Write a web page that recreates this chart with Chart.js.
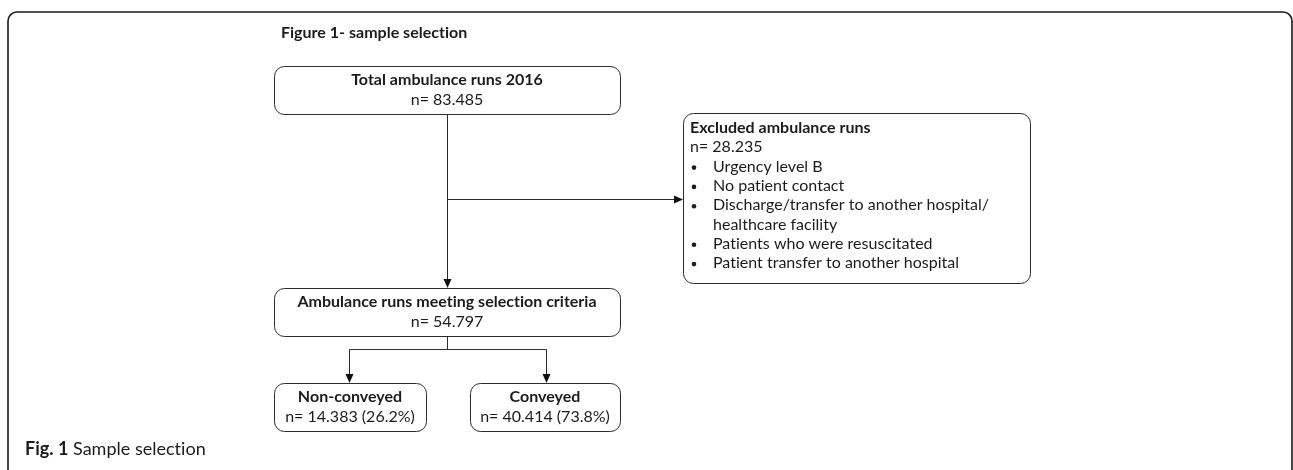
<!DOCTYPE html>
<html><head><meta charset="utf-8">
<script src="https://cdn.jsdelivr.net/npm/chart.js@4/dist/chart.umd.min.js"></script>
<style>html,body{margin:0;padding:0;background:#fff}#wrap{width:1293px;height:470px;position:relative}</style>
</head><body><div id="wrap"><canvas id="c"></canvas></div>
<script>
// ---- data ----
const figureTitle = 'Figure 1- sample selection';
const captionLabel = 'Fig. 1';
const captionText = ' Sample selection';
const stageTitles = ['Total ambulance runs 2016', 'Ambulance runs meeting selection criteria', 'Non-conveyed', 'Conveyed'];
const stageCounts = [83485, 54797, 14383, 40414];
const stageShares = [null, null, 26.2, 73.8];
const excludedTitle = 'Excluded ambulance runs';
const excludedCount = 28235;
const excludedReasons = ['Urgency level B', 'No patient contact', 'Discharge/transfer to another hospital/\nhealthcare facility', 'Patients who were resuscitated', 'Patient transfer to another hospital'];

// ---- layout (axis units) ----
const stageBoxes = [
  {x0: 274, y0: 66, x1: 620, y1: 114},
  {x0: 274, y0: 288, x1: 620, y1: 336},
  {x0: 274, y0: 383, x1: 426, y1: 431},
  {x0: 470, y0: 383, x1: 620, y1: 431}
];
const excludedBox = {x0: 683, y0: 113, x1: 1030, y1: 283};
const branchY = 199, splitY = 349;
const TXT = '#1e1b1c', LINE = '#2a2a2a';
const FONT = 'Lato, "Open Sans", sans-serif';

const fmt = n => String(n).replace(/\B(?=(\d{3})+(?!\d))/g, '.');

function rr(ctx, x0, y0, x1, y1, r) {
  ctx.beginPath();
  ctx.moveTo(x0 + r, y0);
  ctx.lineTo(x1 - r, y0);
  ctx.arcTo(x1, y0, x1, y0 + r, r);
  ctx.lineTo(x1, y1 - r);
  ctx.arcTo(x1, y1, x1 - r, y1, r);
  ctx.lineTo(x0 + r, y1);
  ctx.arcTo(x0, y1, x0, y1 - r, r);
  ctx.lineTo(x0, y0 + r);
  ctx.arcTo(x0, y0, x0 + r, y0, r);
  ctx.closePath();
}

const flowPlugin = {
  id: 'flow',
  afterDraw(chart) {
    const ctx = chart.ctx;
    const sx = chart.scales.x, sy = chart.scales.y;
    const X = v => sx.getPixelForValue(v), Y = v => sy.getPixelForValue(v);
    const px = v => Math.round(v) + 0.5;
    ctx.save();
    if ('letterSpacing' in ctx) ctx.letterSpacing = '0.01px'; // avoid ligatures

    // outer frame
    ctx.strokeStyle = '#1a1a1a';
    ctx.lineWidth = 1.6;
    rr(ctx, X(8), Y(12), X(1292), Y(520), 9);
    ctx.stroke();

    // title
    ctx.fillStyle = TXT;
    ctx.textBaseline = 'middle';
    ctx.textAlign = 'left';
    ctx.font = 'bold 16px ' + FONT;
    ctx.fillText(figureTitle, X(281), Y(33));

    // stage boxes
    ctx.lineWidth = 1;
    ctx.strokeStyle = LINE;
    stageBoxes.forEach((b, i) => {
      rr(ctx, px(X(b.x0)), px(Y(b.y0)), px(X(b.x1)), px(Y(b.y1)), 10);
      ctx.stroke();
      const cx = (X(b.x0) + X(b.x1)) / 2;
      const top = Y(b.y0);
      ctx.textAlign = 'center';
      ctx.font = 'bold 16px ' + FONT;
      ctx.fillText(stageTitles[i], cx, top + 14);
      ctx.font = '16px ' + FONT;
      let l2 = 'n= ' + fmt(stageCounts[i]);
      if (stageShares[i] != null) l2 += ' (' + stageShares[i].toFixed(1) + '%)';
      ctx.fillText(l2, cx, top + 34);
    });

    // excluded box
    const e = excludedBox;
    rr(ctx, px(X(e.x0)), px(Y(e.y0)), px(X(e.x1)), px(Y(e.y1)), 10);
    ctx.stroke();
    ctx.textAlign = 'left';
    ctx.font = 'bold 16px ' + FONT;
    const lh = 19.3;
    let ly = Y(e.y0) + 15;
    ctx.fillText(excludedTitle, X(e.x0) + 7, ly);
    ly += lh;
    ctx.font = '16px ' + FONT;
    ctx.fillText('n= ' + fmt(excludedCount), X(e.x0) + 7, ly);
    excludedReasons.forEach(r => {
      r.split('\n').forEach((ln, j) => {
        ly += lh;
        if (j === 0) {
          ctx.beginPath();
          ctx.arc(X(e.x0) + 11, ly + 1, 2.3, 0, Math.PI * 2);
          ctx.fill();
        }
        ctx.fillText(ln, X(e.x0) + 30, ly);
      });
    });

    // connectors
    function line(x0, y0, x1, y1) {
      ctx.beginPath();
      ctx.moveTo(x0, y0); ctx.lineTo(x1, y1); ctx.stroke();
    }
    function arrowDown(x, y) {
      ctx.beginPath();
      ctx.moveTo(x, y); ctx.lineTo(x - 4, y - 9); ctx.lineTo(x + 4, y - 9); ctx.closePath(); ctx.fill();
    }
    function arrowRight(x, y) {
      ctx.beginPath();
      ctx.moveTo(x, y); ctx.lineTo(x - 9, y - 4); ctx.lineTo(x - 9, y + 4); ctx.closePath(); ctx.fill();
    }
    ctx.fillStyle = '#111';
    const mx = px((X(stageBoxes[0].x0) + X(stageBoxes[0].x1)) / 2);
    line(mx, Y(stageBoxes[0].y1), mx, Y(stageBoxes[1].y0) - 8);
    arrowDown(mx, Y(stageBoxes[1].y0));
    line(mx, px(Y(branchY)), X(e.x0) - 8, px(Y(branchY)));
    arrowRight(X(e.x0), px(Y(branchY)));
    const lx = px((X(stageBoxes[2].x0) + X(stageBoxes[2].x1)) / 2) - 1;
    const rx = px((X(stageBoxes[3].x0) + X(stageBoxes[3].x1)) / 2) + 1;
    line(mx, Y(stageBoxes[1].y1), mx, px(Y(splitY)));
    line(lx, px(Y(splitY)), rx, px(Y(splitY)));
    line(lx, px(Y(splitY)), lx, Y(stageBoxes[2].y0) - 8);
    line(rx, px(Y(splitY)), rx, Y(stageBoxes[3].y0) - 8);
    arrowDown(lx, Y(stageBoxes[2].y0));
    arrowDown(rx, Y(stageBoxes[3].y0));

    // caption
    ctx.fillStyle = TXT;
    ctx.textAlign = 'left';
    ctx.font = 'bold 18px ' + FONT;
    ctx.fillText(captionLabel, X(25), Y(449));
    const w = ctx.measureText(captionLabel).width;
    ctx.font = '18px ' + FONT;
    ctx.fillText(captionText, X(25) + w, Y(449));
    ctx.restore();
  }
};

new Chart(document.getElementById('c'), {
  type: 'scatter',
  data: {datasets: [{data: [], pointRadius: 0}]},
  options: {
    responsive: true, maintainAspectRatio: false, animation: false,
    layout: {padding: 0},
    plugins: {legend: {display: false}, tooltip: {enabled: false}},
    scales: {
      x: {type: 'linear', min: 0, max: 1293, display: false},
      y: {type: 'linear', min: 0, max: 470, reverse: true, display: false}
    }
  },
  plugins: [flowPlugin]
});
</script></body></html>
